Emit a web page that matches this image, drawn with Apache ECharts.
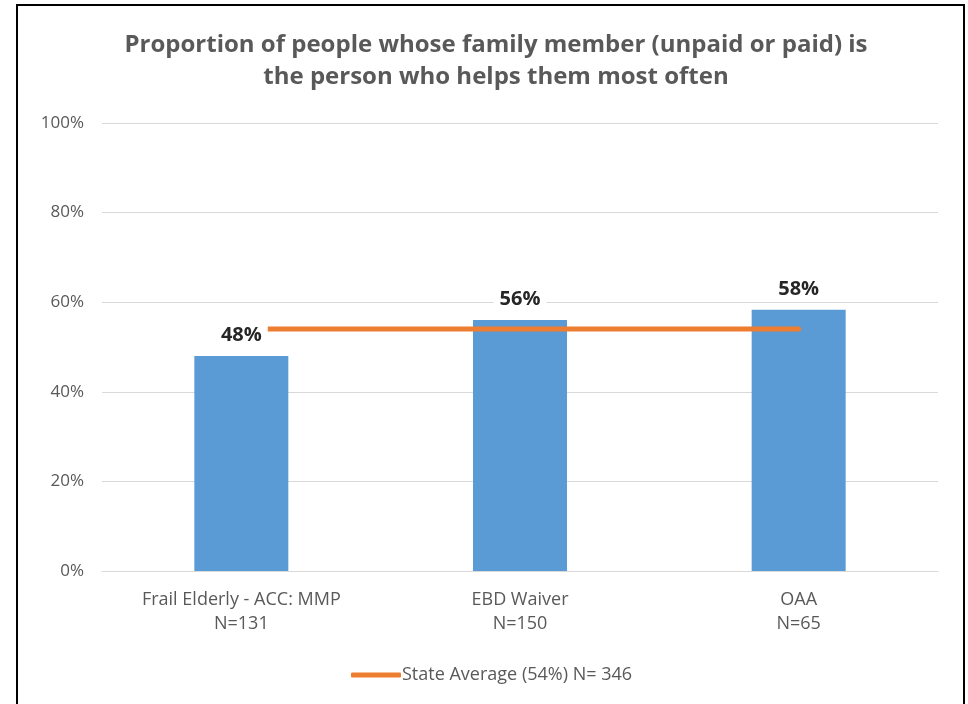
<!DOCTYPE html>
<html>
<head>
<meta charset="utf-8">
<script src="https://cdn.jsdelivr.net/npm/echarts@6/dist/echarts.min.js"></script>
<style>
  html, body { margin: 0; padding: 0; background: #fff; }
  #main { position: absolute; left: 0; top: 0; width: 968px; height: 704px; }
  #frame { position: absolute; left: 16px; top: 4px; width: 945px; height: 710px;
           border: 2px solid #000; border-bottom: none; pointer-events: none; }
</style>
</head>
<body>
<div id="main"></div>
<div id="frame"></div>
<script>
// categories + values
var categories = ['Frail Elderly - ACC: MMP\nN=131', 'EBD Waiver\nN=150', 'OAA\nN=65'];
var proportion = [48, 56, 58.3];
var stateAvg = [54, 54, 54];
var yTicks = [0, 20, 40, 60, 80, 100];

var chart = echarts.init(document.getElementById('main'));

var option = {
    animation: false,
    title: {
        text: 'Proportion of people whose family member (unpaid or paid) is\nthe person who helps them most often',
        left: 491,
        textAlign: 'center',
        top: 24,
        textStyle: {
            fontFamily: 'Open Sans',
            fontSize: 24,
            fontWeight: 'bold',
            color: '#595959',
            lineHeight: 32
        }
    },
    grid: {
        left: 102,
        right: 30,
        top: 123,
        bottom: 133
    },
    legend: {
        data: [{ name: 'State Average (54%) N= 346', icon: 'roundRect' }],
        top: 661,
        left: 346,
        itemWidth: 50,
        itemHeight: 5,
        itemGap: 4,
        textStyle: {
            fontFamily: 'Open Sans',
            fontSize: 18,
            color: '#595959',
            padding: [0, 0, 0, -4]
        }
    },
    xAxis: {
        type: 'category',
        data: categories,
        axisTick: { show: false },
        axisLine: { lineStyle: { color: '#D9D9D9', width: 1 } },
        axisLabel: {
            fontFamily: 'Open Sans',
            fontSize: 18,
            color: '#595959',
            lineHeight: 24,
            margin: 17
        }
    },
    yAxis: {
        type: 'value',
        min: yTicks[0],
        max: yTicks[yTicks.length - 1],
        interval: 20,
        axisLine: { show: false },
        axisTick: { show: false },
        splitLine: { lineStyle: { color: '#D9D9D9', width: 1 } },
        axisLabel: {
            formatter: '{value}%',
            fontFamily: 'Open Sans',
            fontSize: 17,
            color: '#595959',
            margin: 18
        }
    },
    series: [
        {
            name: 'Proportion',
            type: 'bar',
            data: proportion,
            barWidth: 94,
            z: 2,
            itemStyle: { color: '#5B9BD5' }
        },
        {
            name: 'State Average (54%) N= 346',
            type: 'line',
            data: stateAvg,
            z: 3,
            symbol: 'none',
            itemStyle: { color: '#ED7D31' },
            lineStyle: { color: '#ED7D31', width: 5, cap: 'round' }
        },
        { // labels only, kept above the orange line
            name: 'Proportion labels',
            type: 'bar',
            data: proportion,
            barWidth: 94,
            barGap: '-100%',
            z: 4,
            silent: true,
            itemStyle: { color: 'rgba(0,0,0,0)' },
            label: {
                show: true,
                position: 'top',
                distance: 9,
                formatter: function (p) { return Math.round(p.value) + '%'; },
                fontFamily: 'Open Sans',
                fontSize: 20,
                fontWeight: 'bold',
                color: '#262626',
                backgroundColor: '#fff',
                padding: [2, 6]
            }
        }
    ]
};

chart.setOption(option);
</script>
</body>
</html>
